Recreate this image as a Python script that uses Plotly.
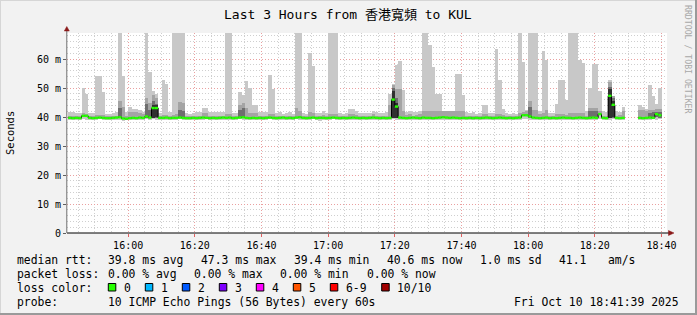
import plotly.graph_objects as go
import pandas as pd

# ---------------- data (ms) ----------------
start_time = "2025-10-10 15:42:00"
n_bins = 178

median_ms = [
    39.7, 39.6, 39.7, 39.6, 40.4, 40.4, 39.7, 39.6, 39.7, 39.8,
    39.7, 39.6, 39.6, 39.7, 39.8, 39.9, 39.5, 39.4, 39.6, 39.7,
    39.6, 39.8, 39.7, 40.2, 39.8, 43.1, 43.1, 39.7, 39.7, 39.8,
    39.6, 39.7, 39.7, 39.8, 39.7, 39.6, 39.6, 39.7, 39.6, 39.7,
    39.8, 39.7, 39.6, 39.7, 39.6, 39.7, 39.8, 39.7, 39.8, 39.6,
    39.7, 39.8, 39.9, 39.7, 39.6, 39.7, 39.6, 39.7, 39.6, 39.7,
    39.8, 39.7, 39.6, 39.7, 39.8, 39.6, 39.7, 39.6, 39.8, 39.9,
    39.7, 39.6, 39.7, 39.8, 39.6, 39.7, 39.7, 39.6, 39.7, 39.8,
    39.7, 39.6, 39.7, 39.6, 39.7, 39.8, 39.7, 39.6, 39.7, 39.6,
    39.7, 39.8, 39.7, 39.6, 39.7, 39.6, 39.7, 46.0, 43.6, 39.8,
    39.7, 39.6, 39.7, 39.8, 39.7, 39.6, 39.8, 39.7, 39.7, 39.6,
    39.7, 39.8, 39.9, 39.8, 39.7, 39.8, 39.7, 39.6, 39.7, 39.6,
    39.7, 39.6, 39.7, 39.6, 39.7, 39.8, 39.7, 39.6, 39.7, 39.8,
    39.7, 39.6, 39.7, 39.6, 39.7, 39.8, 40.6, 40.6, 40.2, 39.8,
    39.7, 39.6, 39.7, 39.8, 39.6, 39.7, 39.6, 39.7, 39.8, 39.7,
    39.7, 39.6, 39.7, 39.8, 39.7, 39.6, 39.7, 39.8, 39.7, 41.0,
    39.7, 39.6, 47.3, 44.2, 39.7, 39.6, 39.7, None, None, None,
    None, 39.7, 39.6, 39.7, 39.8, 39.7, 41.0, 40.6,
]

ping_min = [
    39.1, 39.0, 39.1, 39.1, 39.2, 39.1, 39.0, 39.1, 39.1, 39.2,
    39.1, 39.0, 39.1, 39.1, 39.0, 38.8, 38.7, 38.8, 39.0, 39.1,
    39.0, 38.8, 39.1, 39.2, 39.1, 39.2, 39.1, 39.0, 39.1, 39.1,
    39.0, 39.1, 39.1, 39.2, 39.1, 39.0, 39.1, 39.1, 39.0, 39.1,
    39.1, 39.2, 39.1, 39.0, 39.1, 39.1, 39.0, 39.1, 39.1, 39.0,
    39.1, 39.2, 39.1, 39.0, 38.9, 39.1, 39.1, 39.0, 39.1, 39.1,
    39.2, 39.1, 39.0, 39.1, 39.1, 39.0, 39.1, 39.1, 39.2, 39.1,
    39.0, 39.1, 39.1, 39.2, 38.8, 38.7, 39.0, 39.1, 39.1, 39.2,
    39.1, 39.0, 39.1, 39.1, 39.0, 39.1, 39.1, 39.0, 39.1, 39.1,
    39.0, 39.1, 39.1, 39.0, 39.1, 39.1, 39.0, 39.2, 39.1, 39.1,
    39.1, 39.0, 39.1, 39.1, 39.0, 39.1, 39.1, 39.1, 39.0, 39.1,
    39.1, 39.0, 39.1, 39.1, 39.0, 39.1, 39.1, 38.8, 38.8, 39.0,
    39.1, 39.1, 39.0, 39.1, 39.1, 39.0, 39.1, 39.1, 39.0, 39.1,
    39.1, 39.0, 39.1, 39.1, 39.0, 39.1, 39.2, 39.2, 39.1, 39.1,
    39.0, 39.1, 39.1, 39.0, 39.1, 39.1, 39.0, 39.1, 38.9, 38.8,
    39.1, 39.0, 38.9, 39.1, 39.1, 39.0, 39.1, 39.1, 39.1, 39.2,
    39.1, 39.0, 39.1, 39.2, 39.1, 39.0, 39.1, None, None, None,
    None, 39.1, 39.0, 39.1, 39.1, 39.2, 39.1, 39.2,
]

ping_mid = [
    40.5, 40.4, 40.3, 40.3, 41.5, 41.2, 40.4, 40.3, 40.8, 40.8,
    40.8, 40.3, 40.3, 40.4, 40.5, 45.5, 43.4, 40.3, 41.7, 41.7,
    41.7, 41.5, 41.2, 46.4, 44.7, 47.5, 46.5, 40.5, 40.7, 40.7,
    40.4, 40.8, 41.2, 45.3, 44.7, 40.4, 40.3, 40.4, 40.5, 40.5,
    41.5, 41.5, 40.5, 40.4, 40.4, 40.5, 40.4, 41.0, 41.0, 40.3,
    40.4, 44.0, 45.0, 43.0, 41.5, 41.3, 41.3, 40.5, 40.4, 40.5,
    41.0, 41.0, 40.4, 40.5, 40.3, 40.4, 40.5, 40.3, 43.0, 42.0,
    40.4, 40.3, 41.8, 41.5, 40.3, 40.4, 40.8, 40.4, 41.0, 41.0,
    41.0, 40.4, 40.3, 40.4, 41.2, 41.2, 40.8, 40.4, 40.3, 40.4,
    40.3, 41.0, 40.4, 40.3, 40.4, 40.5, 44.0, 51.0, 49.5, 49.5,
    42.0, 40.6, 41.0, 40.5, 40.6, 41.0, 42.2, 42.2, 42.2, 42.2,
    42.2, 42.2, 42.2, 42.0, 42.2, 42.0, 42.2, 42.2, 42.0, 40.5,
    40.4, 40.5, 40.3, 40.4, 41.0, 41.0, 40.4, 40.4, 41.2, 41.2,
    40.8, 40.4, 40.3, 40.4, 40.3, 41.5, 41.8, 42.0, 45.5, 42.4,
    42.4, 41.2, 41.5, 42.4, 40.4, 40.5, 41.0, 41.0, 41.0, 40.8,
    41.3, 41.3, 41.3, 41.3, 41.3, 40.5, 43.1, 43.1, 43.1, 42.0,
    40.5, 40.4, 52.0, 47.4, 40.5, 40.8, 42.2, None, None, None,
    None, 42.4, 42.4, 42.0, 42.4, 42.4, 42.6, 42.6,
]

ping_max = [
    41.8, 41.8, 41.5, 41.5, 50.0, 48.0, 41.5, 41.3, 54.0, 54.0,
    48.5, 41.2, 41.2, 41.5, 41.8, 75.0, 54.0, 41.8, 43.6, 42.9,
    42.9, 42.5, 41.8, 75.0, 55.6, 49.0, 47.8, 41.5, 52.8, 51.4,
    41.8, 75.0, 75.0, 75.0, 75.0, 41.5, 41.2, 41.5, 41.7, 41.7,
    43.1, 43.1, 41.7, 41.8, 41.6, 41.7, 41.8, 75.0, 75.0, 41.5,
    41.5, 48.7, 47.6, 52.5, 50.0, 44.1, 44.1, 41.7, 41.7, 41.7,
    54.5, 49.5, 41.5, 41.7, 41.2, 41.5, 41.6, 41.2, 75.0, 75.0,
    41.3, 41.0, 62.2, 57.7, 41.3, 41.3, 42.2, 41.5, 75.0, 75.0,
    75.0, 41.5, 41.2, 41.5, 42.6, 42.6, 42.2, 41.5, 41.3, 41.5,
    41.3, 42.2, 41.6, 41.3, 41.5, 41.8, 48.0, 51.3, 58.0, 59.4,
    49.3, 41.8, 42.2, 41.6, 41.8, 42.0, 75.0, 75.0, 64.8, 57.4,
    47.9, 47.9, 42.2, 42.0, 42.2, 42.0, 54.7, 54.7, 47.6, 41.8,
    41.5, 41.7, 41.2, 41.5, 44.1, 44.1, 41.5, 41.5, 63.4, 52.8,
    42.8, 41.5, 41.0, 41.5, 41.2, 75.0, 59.1, 42.5, 75.0, 75.0,
    75.0, 42.0, 62.8, 59.7, 41.5, 41.5, 44.5, 52.8, 52.8, 45.9,
    75.0, 75.0, 75.0, 59.7, 58.6, 42.0, 49.9, 58.3, 58.3, 49.0,
    42.0, 41.8, 52.8, 47.4, 42.0, 41.8, 43.4, None, None, None,
    None, 44.1, 43.6, 42.8, 51.0, 47.2, 44.5, 50.1,
]

dark_bins = [15, 23, 24, 25, 26, 33, 34, 51, 52, 97, 98, 138, 156, 157, 158, 162, 163, 174, 175, 176, 177]
dark_lo = [39.6, 39.6, 39.5, 39.6, 39.6, 39.5, 39.5, 39.5, 39.6, 39.5, 39.6, 39.8, 39.5, 39.6, 39.5, 39.6, 39.7, 39.6, 39.7, 40.0, 39.8]
dark_hi = [43.0, 44.5, 42.5, 45.5, 44.5, 42.5, 42.0, 42.5, 43.0, 50.0, 46.5, 43.5, 42.0, 42.2, 42.0, 50.5, 46.5, 41.5, 41.8, 41.8, 41.8]

black_bins = [25, 26, 97, 98, 162, 163]
black_lo = [39.8, 39.9, 39.6, 39.8, 39.7, 39.9]
black_hi = [44.2, 44.0, 49.0, 45.0, 49.5, 45.5]

x_tick_labels = ["16:00", "16:20", "16:40", "17:00", "17:20", "17:40", "18:00", "18:20", "18:40"]
y_tick_vals = [0, 10, 20, 30, 40, 50, 60]
y_tick_text = ["0", "10 m", "20 m", "30 m", "40 m", "50 m", "60 m"]

loss_labels = ["0", "1", "2", "3", "4", "5", "6-9", "10/10"]
loss_colors = ["#26ff00", "#00b8ff", "#0059ff", "#7e00ff", "#ff00ff", "#ff5500", "#ff0000", "#a10000"]
loss_square_x = [108.3, 145.3, 182.3, 219.3, 256.3, 293.3, 330.3, 381.7]

stats_row1 = [("median rtt:", 16), ("39.8 ms avg", 107), ("47.3 ms max", 200), ("39.4 ms min", 293),
              ("40.6 ms now", 386), ("1.0 ms sd", 479), ("41.1", 558), ("am/s", 607)]
stats_row2 = [("packet loss:", 16), ("0.00 % avg", 107), ("0.00 % max", 193), ("0.00 % min", 279),
              ("0.00 % now", 365.5)]
stats_row4 = [("probe:", 16), ("10 ICMP Echo Pings (56 Bytes) every 60s", 107)]

# ---------------- build ----------------
t0 = pd.Timestamp(start_time)
bin_start = [t0 + pd.Timedelta(minutes=i) for i in range(n_bins)]
bin_mid = [t + pd.Timedelta(seconds=30) for t in bin_start]
STEP = 60000

MONO = "DejaVu Sans Mono"


def band(lo, hi):
    base, h = [], []
    for a, b in zip(lo, hi):
        if a is None or b is None:
            base.append(None); h.append(None)
        else:
            base.append(a); h.append(b - a)
    return base, h


fig = go.Figure()

b, h = band(ping_min, ping_max)
fig.add_trace(go.Bar(x=bin_mid, y=h, base=b, width=STEP, marker=dict(color="#c8c8c8", line=dict(width=0)),
                     hoverinfo="skip"))
b, h = band(median_ms, ping_mid)
fig.add_trace(go.Bar(x=bin_mid, y=h, base=b, width=STEP, marker=dict(color="#a4a4a4", line=dict(width=0)),
                     hoverinfo="skip"))
fig.add_trace(go.Bar(x=[bin_mid[i] for i in dark_bins], y=[hh - ll for ll, hh in zip(dark_lo, dark_hi)],
                     base=dark_lo, width=STEP, marker=dict(color="#6e6e6e", line=dict(width=0)), hoverinfo="skip"))
fig.add_trace(go.Bar(x=[bin_mid[i] for i in black_bins], y=[hh - ll for ll, hh in zip(black_lo, black_hi)],
                     base=black_lo, width=STEP, marker=dict(color="#303030", line=dict(width=0)), hoverinfo="skip"))

# median: black step line underneath, green horizontal segments on top
step_x = bin_start + [bin_start[-1] + pd.Timedelta(minutes=1)]
step_y = median_ms + [median_ms[-1]]
fig.add_trace(go.Scatter(x=step_x, y=step_y, mode="lines", line=dict(color="#000000", width=1, shape="hv"),
                         connectgaps=False, hoverinfo="skip"))
gx, gy = [], []
for t, m in zip(bin_start, median_ms):
    if m is None:
        continue
    gx += [t, t + pd.Timedelta(minutes=1), None]
    gy += [m, m, None]
fig.add_trace(go.Scatter(x=gx, y=gy, mode="lines", line=dict(color="#26ff00", width=2.4),
                         connectgaps=False, hoverinfo="skip"))

# ---------------- layout ----------------
L, T, W, H = 67, 33, 600, 200


def px(xp):
    return (xp - L) / W


def py(yp):
    return (T + H - yp) / H


fig.update_layout(
    width=697, height=315,
    margin=dict(l=L, r=697 - L - W, t=T, b=315 - T - H, pad=0),
    paper_bgcolor="#f2f2f2", plot_bgcolor="#ffffff",
    barmode="overlay", bargap=0, showlegend=False,
    font=dict(family=MONO, size=10, color="#000000"),
)
fig.update_xaxes(
    type="date",
    range=["2025-10-10 15:41:39", "2025-10-10 18:41:39"],
    tickmode="array",
    tickvals=[pd.Timestamp("2025-10-10 16:00") + pd.Timedelta(minutes=20 * k) for k in range(len(x_tick_labels))],
    ticktext=x_tick_labels,
    tickfont=dict(family=MONO, size=10, color="#000000"),
    ticks="outside", ticklen=3, tickcolor="#e06060",
    showgrid=True, gridcolor="#eaa0a0", griddash="1px,2px", gridwidth=1,
    minor=dict(tickmode="linear", tick0="2025-10-10 16:00", dtick=300000, showgrid=True,
               gridcolor="#cfcfcf", griddash="1px,2px", ticks=""),
    showline=False, zeroline=False, fixedrange=True,
)
fig.update_yaxes(
    range=[0, 68.97],
    tickmode="array", tickvals=y_tick_vals, ticktext=y_tick_text,
    tickfont=dict(family=MONO, size=10, color="#000000"),
    ticks="outside", ticklen=3, tickcolor="#606060",
    showgrid=True, gridcolor="#eaa0a0", griddash="1px,2px", gridwidth=1,
    minor=dict(tickmode="linear", tick0=0, dtick=2, showgrid=True, gridcolor="#cfcfcf",
               griddash="1px,2px", ticks=""),
    showline=False, zeroline=False, fixedrange=True,
)

shapes = []
# axes with arrows
shapes.append(dict(type="line", xref="paper", yref="paper", x0=px(67), x1=px(669), y0=py(233), y1=py(233),
                   line=dict(color="#000000", width=1)))
shapes.append(dict(type="path", xref="paper", yref="paper",
                   path=f"M {px(668.5)} {py(230.5)} L {px(674)} {py(233)} L {px(668.5)} {py(235.5)} Z",
                   fillcolor="#8b1a1a", line=dict(color="#8b1a1a", width=0.5)))
shapes.append(dict(type="line", xref="paper", yref="paper", x0=px(66.8), x1=px(66.8), y0=py(233), y1=py(30),
                   line=dict(color="#707070", width=1)))
shapes.append(dict(type="path", xref="paper", yref="paper",
                   path=f"M {px(64.3)} {py(31)} L {px(66.8)} {py(26.5)} L {px(69.3)} {py(31)} Z",
                   fillcolor="#8b1a1a", line=dict(color="#8b1a1a", width=0.5)))
# image frame
shapes.append(dict(type="line", xref="paper", yref="paper", x0=px(0), x1=px(697), y0=py(0.5), y1=py(0.5),
                   line=dict(color="#d6d6d6", width=1)))
shapes.append(dict(type="line", xref="paper", yref="paper", x0=px(0.5), x1=px(0.5), y0=py(0), y1=py(315),
                   line=dict(color="#d6d6d6", width=1)))
shapes.append(dict(type="line", xref="paper", yref="paper", x0=px(0), x1=px(697), y0=py(314), y1=py(314),
                   line=dict(color="#9a9a9a", width=2)))
shapes.append(dict(type="line", xref="paper", yref="paper", x0=px(696), x1=px(696), y0=py(0), y1=py(315),
                   line=dict(color="#9a9a9a", width=2)))

annotations = []


def text(t, x, y, size=11.4, anchor="left", color="#000000", angle=0):
    annotations.append(dict(text=t, x=px(x), y=py(y), xref="paper", yref="paper", showarrow=False,
                            xanchor=anchor, yanchor="middle", textangle=angle,
                            font=dict(family=MONO + ", Noto Sans CJK TC", size=size, color=color)))


text("Last 3 Hours from 香港寬頻 to KUL", 348, 14.5, size=13, anchor="center")
text("Seconds", 10, 133, size=10.5, anchor="center", angle=-90)
text("RRDTOOL / TOBI OETIKER", 688, 59, size=8.2, anchor="center", color="#a8a8a8", angle=90)

for t, x in stats_row1:
    text(t, x - 1, 259.5)
for t, x in stats_row2:
    text(t, x - 1, 273.5)
text("loss color:", 15, 287.5)
for lab, col, sx in zip(loss_labels, loss_colors, loss_square_x):
    shapes.append(dict(type="rect", xref="paper", yref="paper", x0=px(sx), x1=px(sx + 7.5),
                       y0=py(291), y1=py(283.5), fillcolor=col, line=dict(color="#000000", width=1)))
    text(lab, sx + 13.5, 287.5)
for t, x in stats_row4:
    text(t, x - 1, 301.5)
text("Fri Oct 10 18:41:39 2025", 681, 301.5, anchor="right")

fig.update_layout(shapes=shapes, annotations=annotations)
fig.write_html("out.html")
